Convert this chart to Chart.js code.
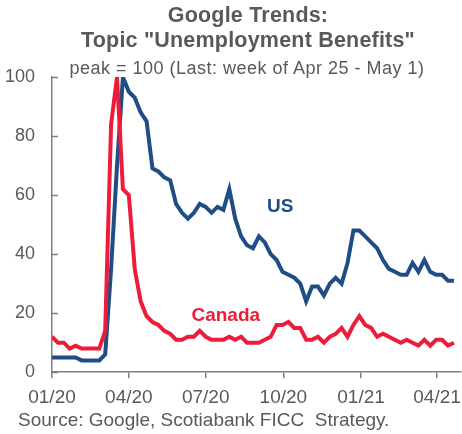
<!DOCTYPE html>
<html>
<head>
  <meta charset="UTF-8">
  <title>Google Trends: Unemployment Benefits</title>
  <script src="https://cdn.jsdelivr.net/npm/chart.js"></script>
  <style>
    body { margin: 0; font-family: "Liberation Sans", Arial, sans-serif; background: #fff; }
    #wrap { position: relative; width: 462px; height: 434px; overflow: hidden; }
    #wrap canvas { position: absolute; left: 0; top: 0; }
    .txt { position: absolute; color: #595959; line-height: 1; white-space: nowrap; }
    .title { left: 34px; width: 428px; text-align: center; font-weight: bold; font-size: 21.5px; letter-spacing: 0.2px; }
    #t1 { top: 4.5px; }
    #t2 { top: 30px; }
    #sub { top: 59px; left: 34px; width: 426px; text-align: center; font-size: 18px; letter-spacing: 0.5px; }
    #source { top: 410px; left: 18px; font-size: 19px; }
  </style>
</head>
<body>
  <div id="wrap">
    <canvas id="trendChart" width="462" height="434"></canvas>
    <div class="txt title" id="t1">Google Trends:</div>
    <div class="txt title" id="t2">Topic "Unemployment Benefits"</div>
    <div class="txt" id="sub">peak = 100 (Last: week of Apr 25 - May 1)</div>
    <div class="txt" id="source">Source: Google, Scotiabank FICC&nbsp; Strategy.</div>
  </div>
  <script>
    // weekly Google Trends index, first week starts Jan 5 2020
    const weekStart = "2020-01-05";
    const usValues = [
      5, 5, 5, 5, 5, 4, 4, 4, 4, 6,
      35, 70, 100, 95, 93, 88, 85, 69, 68, 66,
      65, 57, 54, 52, 54, 57, 56, 54, 56, 55,
      62, 52, 46, 43, 42, 46, 44, 40, 38, 34,
      33, 32, 30, 24, 29, 29, 26, 30, 32, 30,
      37, 48, 48, 46, 44, 42, 38, 35, 34, 33,
      33, 37, 34, 38, 34, 33, 33, 31, 31
    ];
    const canadaValues = [
      12, 10, 10, 8, 9, 8, 8, 8, 8, 14,
      84, 100, 62, 60, 35, 24, 19, 17, 16, 14,
      13, 11, 11, 12, 12, 14, 12, 11, 11, 11,
      12, 11, 12, 10, 10, 10, 11, 12, 16, 16,
      17, 15, 15, 11, 11, 12, 10, 12, 13, 15,
      12, 16, 19, 16, 15, 12, 13, 12, 11, 10,
      11, 10, 9, 11, 9, 11, 11, 9, 10
    ];
    const tickDates = ["2020-01-05", "2020-04-05", "2020-07-05", "2020-10-05", "2021-01-05", "2021-04-05"];
    const tickLabels = ["01/20", "04/20", "07/20", "10/20", "01/21", "04/21"];
    const yTicks = [0, 20, 40, 60, 80, 100];

    const US_COLOR = "#1f4e87";
    const CA_COLOR = "#ec1c3a";
    const AXIS_COLOR = "#808080";

    const weekIndex = d => (Date.parse(d) - Date.parse(weekStart)) / (7 * 86400000);
    const toPoints = arr => arr.map((v, i) => ({ x: i, y: v }));

    // series name labels placed in data space
    const seriesLabels = [
      { text: "US", x: 38.6, y: 56, color: US_COLOR },
      { text: "Canada", x: 29.4, y: 19, color: CA_COLOR }
    ];

    const extras = {
      id: "extras",
      afterDatasetsDraw(chart) {
        const { ctx, scales: { x, y } } = chart;
        ctx.save();
        // inward tick marks on the y axis
        ctx.strokeStyle = AXIS_COLOR;
        ctx.lineWidth = 1.5;
        y.ticks.forEach(t => {
          const py = Math.round(y.getPixelForValue(t.value)) + 0.5;
          ctx.beginPath();
          ctx.moveTo(x.left, py);
          ctx.lineTo(x.left + 6, py);
          ctx.stroke();
        });
        ctx.font = "bold 19px 'Liberation Sans', Arial, sans-serif";
        ctx.textAlign = "center";
        ctx.textBaseline = "middle";
        seriesLabels.forEach(l => {
          ctx.fillStyle = l.color;
          ctx.fillText(l.text, x.getPixelForValue(l.x), y.getPixelForValue(l.y));
        });
        ctx.restore();
      }
    };

    Chart.defaults.font.family = "'Liberation Sans', Arial, sans-serif";
    Chart.defaults.color = "#595959";

    const ctx = document.getElementById("trendChart").getContext("2d");
    new Chart(ctx, {
      type: "line",
      data: {
        datasets: [
          {
            label: "Canada",
            data: toPoints(canadaValues),
            borderColor: CA_COLOR,
            borderWidth: 4,
            pointRadius: 0,
            tension: 0,
            fill: false
          },
          {
            label: "US",
            data: toPoints(usValues),
            borderColor: US_COLOR,
            borderWidth: 4,
            pointRadius: 0,
            tension: 0,
            fill: false
          }
        ]
      },
      options: {
        responsive: false,
        animation: false,
        devicePixelRatio: 1,
        layout: { padding: { top: 77, left: 5, right: 1, bottom: 17 } },
        plugins: { legend: { display: false }, tooltip: { enabled: false } },
        scales: {
          x: {
            type: "linear",
            min: 0,
            max: 69.2,
            afterBuildTicks: scale => {
              scale.ticks = tickDates.map(d => ({ value: weekIndex(d) }));
            },
            afterFit: scale => {
              scale.paddingLeft = 0;
              scale.paddingRight = 0;
            },
            ticks: {
              autoSkip: false,
              maxRotation: 0,
              padding: 8,
              font: { size: 19 },
              callback: (value, index) => tickLabels[index]
            },
            grid: {
              drawOnChartArea: false,
              drawTicks: true,
              tickLength: 6,
              color: AXIS_COLOR,
              lineWidth: 1.5
            },
            border: { display: true, color: AXIS_COLOR, width: 1.5 }
          },
          y: {
            min: 0,
            max: 100,
            afterBuildTicks: scale => {
              scale.ticks = yTicks.map(v => ({ value: v }));
            },
            afterFit: scale => {
              scale.width = 47;
            },
            ticks: { padding: 17, font: { size: 18 } },
            grid: { display: false, drawTicks: false },
            border: { display: true, color: AXIS_COLOR, width: 1.5 }
          }
        }
      },
      plugins: [extras]
    });
  </script>
</body>
</html>
